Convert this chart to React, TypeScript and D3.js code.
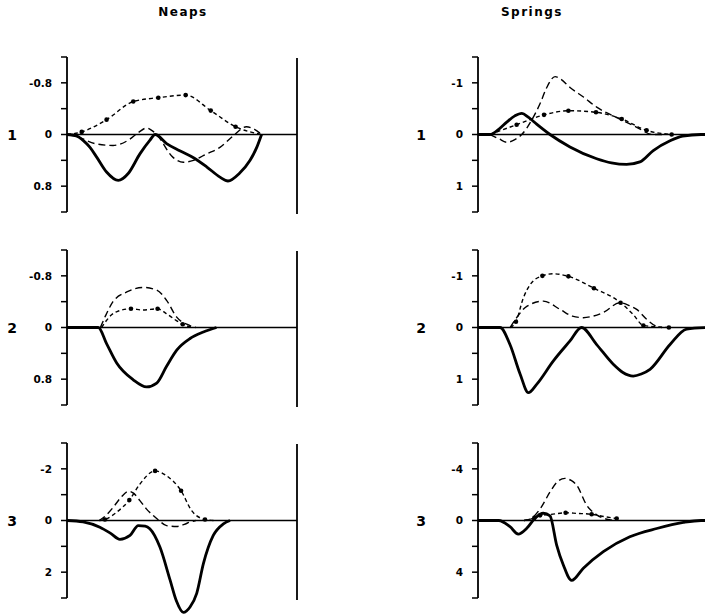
import React from "react";
import * as d3 from "d3";

type P = [number, number];

const columnTitles = ["Neaps", "Springs"];
const rowLabels = ["1", "2", "3"];

// y domains per row (Neaps, Springs)
const neapsDomains: P[] = [[-1.2, 1.2], [-1.2, 1.2], [-3, 3]];
const springsDomains: P[] = [[-1.5, 1.5], [-1.5, 1.5], [-6, 6]];
const neapsTicks = [
  [-1.2, -0.8, -0.4, 0, 0.4, 0.8, 1.2],
  [-1.2, -0.8, -0.4, 0, 0.4, 0.8, 1.2],
  [-3, -2, -1, 0, 1, 2, 3],
];
const springsTicks = [
  [-1.5, -1, -0.5, 0, 0.5, 1, 1.5],
  [-1.5, -1, -0.5, 0, 0.5, 1, 1.5],
  [-6, -4, -2, 0, 2, 4, 6],
];
const neapsTickLabels = [
  [[-0.8, "-0.8"], [0, "0"], [0.8, "0.8"]],
  [[-0.8, "-0.8"], [0, "0"], [0.8, "0.8"]],
  [[-2, "-2"], [0, "0"], [2, "2"]],
] as [number, string][][];
const springsTickLabels = [
  [[-1, "-1"], [0, "0"], [1, "1"]],
  [[-1, "-1"], [0, "0"], [1, "1"]],
  [[-4, "-4"], [0, "0"], [4, "4"]],
] as [number, string][][];

// ---- Neaps 1
const neaps1Solid: P[] = [[0,0],[4,0.02],[7,0.09],[10,0.2],[12.9,0.35],[17.2,0.58],[22.3,0.71],[26.7,0.6],[31.7,0.3],[36,0.09],[38.3,0],[43.3,0.14],[49,0.25],[55,0.36],[60.7,0.5],[66.5,0.66],[70,0.72],[75,0.6],[79.6,0.4],[82.5,0.2],[84.6,0]];
const neaps1Dash: P[] = [[0,0],[5,0.04],[12,0.14],[20,0.17],[27,0.08],[31,-0.03],[34.6,-0.1],[37,-0.06],[39,0],[46,0.35],[50.6,0.43],[55,0.4],[60.7,0.3],[66.5,0.2],[72.3,0.02],[78,-0.12],[81.5,-0.08],[84.6,0]];
const neaps1Dot: P[] = [[0,0],[6.4,-0.04],[17.2,-0.23],[28.8,-0.51],[39.7,-0.57],[51.6,-0.61],[62.5,-0.37],[73.3,-0.12],[84.6,0]];
const neaps1Marks: P[] = [[6.4,-0.04],[17.2,-0.23],[28.8,-0.51],[39.7,-0.57],[51.6,-0.61],[62.5,-0.37],[73.3,-0.12]];

// ---- Neaps 2
const neaps2Solid: P[] = [[0,0],[13.6,0],[17.2,0.25],[21.6,0.55],[28.8,0.81],[34.6,0.92],[39,0.86],[43.3,0.6],[47.7,0.35],[53.5,0.17],[59.3,0.07],[65,0]];
const neaps2Dash: P[] = [[14.5,0],[17,-0.2],[20,-0.4],[26,-0.55],[33.2,-0.62],[39,-0.58],[43.3,-0.42],[47.7,-0.16],[53.5,-0.03],[56,0]];
const neaps2Dot: P[] = [[15,0],[17,-0.1],[19.5,-0.2],[22,-0.25],[27.8,-0.29],[33,-0.27],[39.4,-0.29],[43,-0.22],[47,-0.12],[50.3,-0.05],[55,0]];
const neaps2Marks: P[] = [[27.8,-0.29],[39.4,-0.29],[50.3,-0.05]];

// ---- Neaps 3
const neaps3Solid: P[] = [[0,0],[7,0.05],[14.3,0.26],[19,0.5],[23,0.73],[27.4,0.58],[31,0.2],[34,0.22],[36,0.32],[40.4,1.03],[44.8,2.3],[47.5,3.1],[50.6,3.56],[53.5,3.35],[56.4,2.82],[59.3,1.67],[63.6,0.58],[68,0.13],[70.9,0]];
const neaps3Dash: P[] = [[14,0],[17,-0.2],[20.1,-0.51],[23.5,-0.9],[26.7,-1.13],[29,-1.05],[31.7,-0.77],[34.5,-0.45],[37.5,-0.19],[40,0],[43.3,0.2],[47.7,0.23],[51,0.15],[53.5,0.06],[56,0]];
const neaps3Dot: P[] = [[14,0],[16.5,-0.04],[22,-0.35],[27.1,-0.79],[31.7,-1.41],[38.3,-1.92],[43.3,-1.73],[49.6,-1.15],[54.2,-0.38],[60,-0.04],[64,0]];
const neaps3Marks: P[] = [[16.5,-0.04],[27.1,-0.79],[38.3,-1.92],[49.6,-1.15],[60,-0.04]];

// ---- Springs 1
const springs1Solid: P[] = [[0,0],[5.2,0],[9,-0.1],[12.5,-0.24],[16,-0.36],[19,-0.41],[22,-0.33],[25.5,-0.2],[31.3,0],[40,0.24],[51.6,0.47],[58,0.55],[64.6,0.58],[70.4,0.53],[76.2,0.31],[83.5,0.12],[89,0.03],[97,0],[100,0]];
const springs1Dash: P[] = [[5.2,0],[9,0.08],[12.5,0.15],[16,0.1],[19,0],[24,-0.33],[27,-0.6],[29.9,-0.91],[33.5,-1.12],[36,-1.07],[40,-0.91],[46,-0.72],[51.6,-0.53],[61.7,-0.3],[69,-0.14],[76,0],[80,0]];
const springs1Dot: P[] = [[5.2,0],[16.8,-0.19],[28.7,-0.38],[39.3,-0.46],[51.3,-0.43],[62.5,-0.3],[73.3,-0.08],[84.2,0]];
const springs1Marks: P[] = [[16.8,-0.19],[28.7,-0.38],[39.3,-0.46],[51.3,-0.43],[62.5,-0.3],[73.3,-0.08],[84.2,0]];

// ---- Springs 2
const springs2Solid: P[] = [[0,0],[9.6,0],[13.9,0.33],[18.3,0.9],[21.9,1.26],[25.5,1.1],[32.7,0.65],[40,0.26],[45,0],[51.6,0.33],[58.8,0.71],[63,0.87],[67.5,0.94],[71,0.9],[74.8,0.81],[83.5,0.33],[90.7,0.03],[100,0]];
const springs2Dash: P[] = [[14,0],[16.8,-0.19],[21.2,-0.41],[28.4,-0.51],[35.7,-0.35],[41,-0.22],[45.8,-0.19],[50,-0.22],[54.5,-0.29],[61.7,-0.48],[66,-0.42],[69,-0.35],[73.3,-0.16],[77.7,-0.02],[80,0]];
const springs2Dot: P[] = [[14,0],[16.5,-0.11],[19.7,-0.57],[23,-0.85],[28,-1.0],[32.7,-1.04],[39.3,-0.99],[50.4,-0.76],[62,-0.48],[67.5,-0.25],[71.9,-0.04],[83,0]];
const springs2Marks: P[] = [[16.5,-0.11],[28,-1.0],[39.3,-0.99],[50.4,-0.76],[62,-0.48],[71.9,-0.04],[83,0]];

// ---- Springs 3
const springs3Solid: P[] = [[0,0],[9,0],[13.9,0.48],[17.5,1.05],[21.2,0.6],[24.8,-0.18],[28.4,-0.56],[31.3,-0.36],[34.2,1.9],[37.1,3.44],[40.7,4.64],[45.8,3.69],[54.5,2.41],[66,1.26],[77.7,0.62],[89.3,0.15],[97,0],[100,0]];
const springs3Dash: P[] = [[20,0],[22.6,-0.1],[27.1,-0.92],[31.3,-2.2],[34.5,-3.0],[37.8,-3.26],[40.5,-3.1],[42.9,-2.74],[47.2,-1.2],[51.6,-0.44],[56,-0.1],[60,0]];
const springs3Dot: P[] = [[20,0],[24.5,-0.2],[27,-0.4],[31,-0.45],[38.1,-0.6],[43,-0.55],[49.4,-0.48],[55,-0.3],[60.3,-0.15]];
const springs3Marks: P[] = [[24.5,-0.2],[27,-0.4],[38.1,-0.6],[49.4,-0.48],[60.3,-0.15]];

const neapsSeries = [
  { solid: neaps1Solid, dash: neaps1Dash, dot: neaps1Dot, marks: neaps1Marks },
  { solid: neaps2Solid, dash: neaps2Dash, dot: neaps2Dot, marks: neaps2Marks },
  { solid: neaps3Solid, dash: neaps3Dash, dot: neaps3Dot, marks: neaps3Marks },
];
const springsSeries = [
  { solid: springs1Solid, dash: springs1Dash, dot: springs1Dot, marks: springs1Marks },
  { solid: springs2Solid, dash: springs2Dash, dot: springs2Dot, marks: springs2Marks },
  { solid: springs3Solid, dash: springs3Dash, dot: springs3Dot, marks: springs3Marks },
];

const W = 705;
const H = 615;
const rowTops = [57, 250, 443];
const rowH = 155;
const colAxisX = [67, 478];
const colRowLabelX = [12, 421];
const plotW = 230;
const FONT = "'DejaVu Sans', 'Liberation Sans', Arial, sans-serif";

function Panel({ col, row }: { col: number; row: number }) {
  const ax = colAxisX[col];
  const top = rowTops[row];
  const dom = col === 0 ? neapsDomains[row] : springsDomains[row];
  const ticks = col === 0 ? neapsTicks[row] : springsTicks[row];
  const labels = col === 0 ? neapsTickLabels[row] : springsTickLabels[row];
  const ser = col === 0 ? neapsSeries[row] : springsSeries[row];
  const x = d3.scaleLinear().domain([0, 100]).range([ax, ax + plotW]);
  const y = d3.scaleLinear().domain(dom).range([top, top + rowH]);
  const line = d3
    .line<P>()
    .x((d) => x(d[0]))
    .y((d) => y(d[1]))
    .curve(d3.curveMonotoneX);
  const zeroEnd = col === 0 ? ax + plotW : W;
  return (
    <g>
      <text
        x={colRowLabelX[col]}
        y={y(0)}
        dy="0.36em"
        textAnchor="middle"
        fontFamily={FONT}
        fontWeight="bold"
        fontSize={14}
      >
        {rowLabels[row]}
      </text>
      <line x1={ax} x2={ax} y1={top} y2={top + rowH} stroke="#000" strokeWidth={1.8} />
      {ticks.map((t) => (
        <line key={t} x1={ax - 6} x2={ax} y1={y(t)} y2={y(t)} stroke="#000" strokeWidth={1.5} />
      ))}
      {labels.map(([v, s]) => (
        <text
          key={s}
          x={ax - 15}
          y={y(v)}
          dy="0.36em"
          textAnchor="end"
          fontFamily={FONT}
          fontWeight="bold"
          fontSize={10.5}
        >
          {s}
        </text>
      ))}
      <line x1={ax} x2={zeroEnd} y1={y(0)} y2={y(0)} stroke="#000" strokeWidth={1.5} />
      {col === 0 && (
        <line
          x1={ax + plotW}
          x2={ax + plotW}
          y1={top + 1}
          y2={top + rowH + 2}
          stroke="#000"
          strokeWidth={1.8}
        />
      )}
      <path d={line(ser.dash) || ""} fill="none" stroke="#000" strokeWidth={1.4} strokeDasharray="7,4" />
      <path d={line(ser.dot) || ""} fill="none" stroke="#000" strokeWidth={1.4} strokeDasharray="4,3" />
      {ser.marks.map((m, i) => (
        <circle key={i} cx={x(m[0])} cy={y(m[1])} r={2.3} fill="#000" />
      ))}
      <path d={line(ser.solid) || ""} fill="none" stroke="#000" strokeWidth={2.8} strokeLinejoin="round" />
    </g>
  );
}

export default function App() {
  return (
    <svg width={W} height={H} style={{ display: "block", position: "absolute", left: 0, top: 0, background: "#fff" }}>
      <rect x={0} y={0} width={W} height={H} fill="#fff" />
      {columnTitles.map((t, i) => (
        <text
          key={t}
          x={i === 0 ? 183 : 532}
          y={16}
          textAnchor="middle"
          fontFamily={FONT}
          fontWeight="bold"
          fontSize={12}
          letterSpacing={1.5}
        >
          {t}
        </text>
      ))}
      {[0, 1].map((c) => [0, 1, 2].map((r) => <Panel key={`${c}-${r}`} col={c} row={r} />))}
    </svg>
  );
}
